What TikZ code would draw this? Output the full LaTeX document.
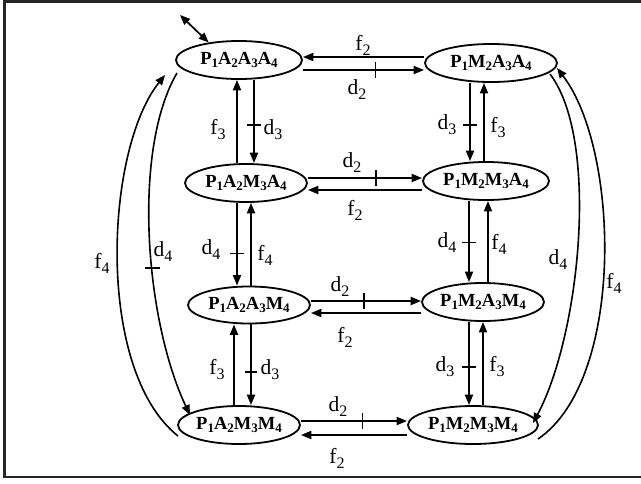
\documentclass[tikz,border=0pt]{standalone}
\usepackage{fontspec}
\setmainfont{Liberation Serif}
\usetikzlibrary{arrows.meta,shapes.geometric}
\newcommand\nsub[1]{\raisebox{-3pt}{\fontsize{13}{14}\selectfont\bfseries #1}}
\newcommand\lsub[1]{\raisebox{-5pt}{\fontsize{16}{17}\selectfont #1}}
\tikzset{
  state/.style={ellipse, draw, line width=1.8pt, inner sep=0pt,
    font=\fontsize{18.5}{20}\selectfont\bfseries},
  conn/.style={line width=2pt, -{Triangle[length=10.5pt,width=8pt]}},
  curvy/.style={line width=1.6pt},
  lbl/.style={font=\fontsize{21.5}{22}\selectfont, inner sep=0pt},
  tk/.style={inner sep=0pt, outer sep=0pt}
}
\begin{document}
\begin{tikzpicture}[x=1pt,y=-1pt]
\useasboundingbox (0,0) rectangle (641,483);
\draw[line width=2.2pt, draw=black!85] (645,1.5) -- (4.5,1.5) -- (4.5,477) -- (645,477);

% states
\node[state, minimum width=126pt, minimum height=38pt] (n1) at (239,60) {P\nsub{1}A\nsub{2}A\nsub{3}A\nsub{4}};
\node[state, minimum width=132pt, minimum height=38pt] (n2) at (491,63) {P\nsub{1}M\nsub{2}A\nsub{3}A\nsub{4}};
\node[state, minimum width=122pt, minimum height=38pt] (n3) at (246,183) {P\nsub{1}A\nsub{2}M\nsub{3}A\nsub{4}};
\node[state, minimum width=126pt, minimum height=38pt] (n4) at (486,181) {P\nsub{1}M\nsub{2}M\nsub{3}A\nsub{4}};
\node[state, minimum width=122pt, minimum height=37pt] (n5) at (249,305) {P\nsub{1}A\nsub{2}A\nsub{3}M\nsub{4}};
\node[state, minimum width=122pt, minimum height=38pt] (n6) at (483,302) {P\nsub{1}M\nsub{2}A\nsub{3}M\nsub{4}};
\node[state, minimum width=122pt, minimum height=38pt] (n7) at (239,425) {P\nsub{1}A\nsub{2}M\nsub{3}M\nsub{4}};
\node[state, minimum width=130pt, minimum height=38pt] (n8) at (473,425) {P\nsub{1}M\nsub{2}M\nsub{3}M\nsub{4}};

% free double arrow
\coordinate (tl) at (180,15);
\draw[line width=1.7pt, {Triangle[length=10pt,width=8pt]}-{Triangle[length=10pt,width=8pt]}] (tl) -- (n1.150);

% horizontal connectors
\draw[conn] ([yshift=6pt]n2.west) -- ([yshift=3pt]n1.east);
\draw[conn] ([yshift=-10pt]n1.east) -- node[pos=0.6,tk]{\rule{1.6pt}{16pt}} ([yshift=-7pt]n2.west);
\draw[conn] ([yshift=5pt]n3.east) -- node[pos=0.595,tk]{\rule{1.6pt}{16pt}} ([yshift=3pt]n4.west);
\draw[conn] ([yshift=-9pt]n4.west) -- ([yshift=-7pt]n3.east);
\draw[conn] ([yshift=4pt]n5.east) -- node[pos=0.48,tk]{\rule{1.6pt}{16pt}} ([yshift=1pt]n6.west);
\draw[conn] ([yshift=-11pt]n6.west) -- ([yshift=-8pt]n5.east);
\draw[conn] ([yshift=4pt]n7.east) -- node[pos=0.58,tk]{\rule{1.6pt}{16pt}} ([yshift=4pt]n8.west);
\draw[conn] ([yshift=-10pt]n8.west) -- ([yshift=-10pt]n7.east);

% vertical connectors, left column
\draw[conn] ([xshift=-9pt]n3.north) -- ([xshift=-2pt]n1.south);
\draw[conn] ([xshift=15pt]n1.south) -- node[pos=0.54,tk]{\rule{14pt}{1.6pt}} ([xshift=8pt]n3.north);
\draw[conn] ([xshift=-9pt]n3.south) -- node[pos=0.61,tk]{\rule{14pt}{1.6pt}} ([xshift=-12pt]n5.north);
\draw[conn] ([xshift=2pt]n5.north) -- ([xshift=5pt]n3.south);
\draw[conn] ([xshift=-5pt]n7.north) -- ([xshift=-15pt]n5.south);
\draw[conn] ([xshift=2pt]n5.south) -- node[pos=0.59,tk]{\rule{12pt}{1.6pt}} ([xshift=12pt]n7.north);

% vertical connectors, right column
\draw[conn] ([xshift=-21pt]n2.south) -- node[pos=0.54,tk]{\rule{14pt}{1.6pt}} ([xshift=-16pt]n4.north);
\draw[conn] ([xshift=-2pt]n4.north) -- ([xshift=-7pt]n2.south);
\draw[conn] ([xshift=-17pt]n4.south) -- node[pos=0.51,tk]{\rule{14pt}{1.6pt}} ([xshift=-14pt]n6.north);
\draw[conn] ([xshift=5pt]n6.north) -- ([xshift=2pt]n4.south);
\draw[conn] ([xshift=-14pt]n6.south) -- node[pos=0.54,tk]{\rule{14pt}{1.6pt}} ([xshift=-4pt]n8.north);
\draw[conn] ([xshift=10pt]n8.north) -- ([xshift=0pt]n6.south);

% big curves
\draw[curvy, -{Triangle[length=10pt,width=8pt]}] ([shift={(-61,11)}]n7.center) .. controls (95,370) and (105,150) .. ([shift={(-74,15)}]n1.center);
\draw[curvy, -{Triangle[length=10pt,width=8pt]}] ([shift={(-62,13)}]n1.center) .. controls (132,150) and (145,320) .. node[pos=0.58,tk]{\rule{15pt}{1.6pt}} ([shift={(-49,-10)}]n7.center);
\draw[curvy, -{Triangle[length=10pt,width=8pt]}] ([shift={(59,11)}]n2.center) .. controls (600,140) and (580,335) .. ([shift={(60,-2)}]n8.center);
\draw[curvy, -{Triangle[length=10pt,width=8pt]}] ([shift={(65,14)}]n8.center) .. controls (625,380) and (620,150) .. ([shift={(66,5)}]n2.center);

% labels
\node[lbl] (l1) at (363,45) {f\lsub{2}};
\node[lbl] (l2) at (357,90) {d\lsub{2}};
\node[lbl] (l3) at (352,163) {d\lsub{2}};
\node[lbl] (l4) at (355,210) {f\lsub{2}};
\node[lbl] (l5) at (340,287) {d\lsub{2}};
\node[lbl] (l6) at (345,337) {f\lsub{2}};
\node[lbl] (l7) at (338,407) {d\lsub{2}};
\node[lbl] (l8) at (337,458) {f\lsub{2}};
\node[lbl] (l9) at (218,130) {f\lsub{3}};
\node[lbl] (l10) at (273,130) {d\lsub{3}};
\node[lbl] (l11) at (211,250) {d\lsub{4}};
\node[lbl] (l12) at (265,255) {f\lsub{4}};
\node[lbl] (l13) at (217,370) {f\lsub{3}};
\node[lbl] (l14) at (270,370) {d\lsub{3}};
\node[lbl] (l15) at (447,125) {d\lsub{3}};
\node[lbl] (l16) at (498,128) {f\lsub{3}};
\node[lbl] (l17) at (447,243) {d\lsub{4}};
\node[lbl] (l18) at (499,244) {f\lsub{4}};
\node[lbl] (l19) at (445,367) {d\lsub{3}};
\node[lbl] (l20) at (497,367) {f\lsub{3}};
\node[lbl] (l21) at (102,263) {f\lsub{4}};
\node[lbl] (l22) at (163,252) {d\lsub{4}};
\node[lbl] (l23) at (558,260) {d\lsub{4}};
\node[lbl] (l24) at (614,283) {f\lsub{4}};
\end{tikzpicture}
\end{document}
